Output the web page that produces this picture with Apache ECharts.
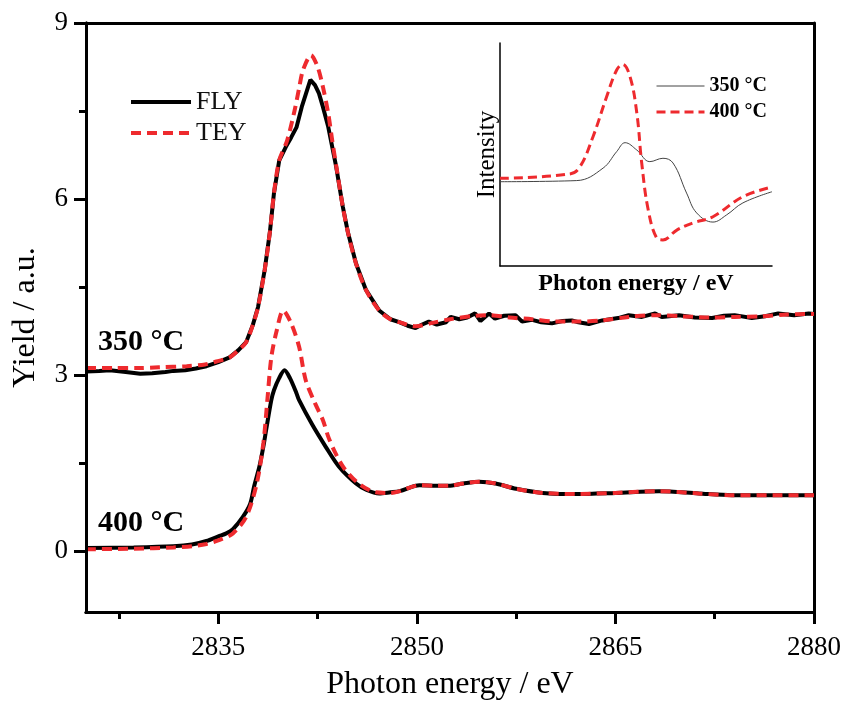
<!DOCTYPE html>
<html>
<head>
<meta charset="utf-8">
<script src="https://cdn.jsdelivr.net/npm/echarts@6/dist/echarts.min.js"></script>
<style>
html,body{margin:0;padding:0;background:#fff;}
#chart{width:848px;height:701px;}
</style>
</head>
<body>
<div id="chart"></div>
<script>
// ---------- axis ticks ----------
const xLabelValues = [2835, 2850, 2865, 2880];
const xMinorTicks = [2827.5, 2842.5, 2857.5, 2872.5];
const yLabelValues = [0, 3, 6, 9];

// ---------- main chart data ----------
const fly350E = [2825.0,2826.0,2826.8,2828.0,2829.1,2830.0,2831.0,2831.6,2832.5,2833.3,2834.1,2835.0,2835.85,2836.5,2837.1,2837.6,2838.0,2838.5,2838.9,2839.2,2839.6,2840.1,2840.5,2840.9,2841.3,2841.95,2842.3,2842.6,2842.9,2843.3,2843.9,2844.4,2844.8,2845.4,2846.15,2847.15,2848.0,2848.66,2849.3,2849.9,2850.4,2850.9,2851.5,2852.2,2852.55,2853.2,2853.8,2854.4,2854.8,2855.45,2855.9,2856.6,2857.45,2857.95,2858.7,2859.4,2860.2,2861.0,2861.7,2862.2,2863.0,2864.0,2865.2,2866.0,2867.0,2868.0,2868.5,2869.8,2871.0,2872.3,2873.2,2874.0,2875.3,2876.3,2877.3,2878.5,2879.6,2880.0];
const fly350Y = [3.06,3.07,3.08,3.05,3.02,3.03,3.05,3.07,3.08,3.11,3.15,3.22,3.30,3.42,3.56,3.85,4.16,4.79,5.45,6.10,6.66,6.89,7.05,7.22,7.57,8.03,7.94,7.80,7.57,7.23,6.55,5.87,5.42,4.90,4.45,4.10,3.95,3.90,3.84,3.80,3.86,3.91,3.86,3.90,3.99,3.95,3.98,4.05,3.92,4.05,3.96,4.01,4.02,3.91,3.94,3.90,3.88,3.92,3.93,3.90,3.87,3.93,3.97,4.02,3.99,4.05,3.99,4.02,3.98,3.97,4.01,4.02,3.97,4.00,4.05,4.02,4.05,4.04];

const tey350E = [2825,2827,2829,2830.5,2832.6,2834.0,2834.85,2835.85,2836.5,2837.1,2837.6,2838.0,2838.5,2838.9,2839.2,2839.6,2840.2,2840.75,2841.1,2841.4,2842.0,2842.5,2842.9,2843.3,2843.6,2843.95,2844.4,2844.8,2845.4,2846.15,2847.15,2848,2848.66,2849.9,2851,2852.5,2854.4,2855.5,2857,2858.7,2860.5,2862.2,2864,2866,2868,2870,2872.3,2874,2876,2878,2880];
const tey350Y = [3.12,3.12,3.12,3.13,3.15,3.18,3.23,3.30,3.42,3.56,3.85,4.16,4.79,5.45,6.10,6.66,7.00,7.50,7.89,8.20,8.45,8.25,7.91,7.46,7.00,6.50,5.87,5.42,4.90,4.45,4.10,3.95,3.90,3.83,3.88,3.95,4.01,4.02,3.98,3.95,3.91,3.91,3.93,3.99,4.02,4.00,3.98,3.99,4.00,4.03,4.04];

const fly400E = [2825,2828.6,2831.6,2833,2834.1,2835.0,2835.6,2836.1,2836.85,2837.4,2837.7,2838.1,2838.4,2838.6,2839.0,2839.2,2839.6,2840.0,2840.4,2840.9,2841.1,2842.1,2843.1,2844.1,2845.4,2846.2,2847.15,2848.0,2848.7,2850.2,2851.5,2852.4,2853.5,2854.7,2855.95,2857.5,2859.5,2862.0,2865.0,2868.3,2871.3,2873.8,2877,2880];
const fly400Y = [0.05,0.06,0.08,0.11,0.17,0.25,0.30,0.37,0.58,0.80,1.10,1.44,1.78,2.05,2.57,2.74,2.95,3.08,2.95,2.69,2.57,2.15,1.78,1.44,1.15,1.04,0.98,1.00,1.02,1.12,1.11,1.11,1.15,1.18,1.15,1.06,0.99,0.97,0.99,1.02,0.98,0.95,0.95,0.95];

const tey400E = [2825,2828.6,2831.6,2833,2834.1,2835.1,2836.1,2837.1,2837.9,2838.4,2838.7,2839.0,2839.4,2839.9,2840.5,2841.1,2841.6,2842.3,2842.9,2843.3,2843.8,2844.5,2845.6,2846.9,2848.0,2848.7,2850.2,2851.5,2852.4,2853.5,2854.7,2855.95,2857.5,2859.5,2862.0,2865.0,2868.3,2871.3,2873.8,2877,2880];
const tey400Y = [0.03,0.04,0.06,0.08,0.12,0.19,0.30,0.58,1.15,1.84,2.57,3.30,3.75,4.10,3.88,3.48,2.91,2.52,2.23,1.95,1.69,1.41,1.15,1.00,0.99,1.02,1.12,1.11,1.11,1.15,1.18,1.15,1.06,0.99,0.97,0.99,1.02,0.98,0.95,0.95,0.95];

// ---------- inset data (arbitrary units) ----------
const inset350X = [0,28.2,37.9,42.9,46.0,50.3,55.1,59.9,63.6,68.6,72.3,78.3,83.3,89.3,100];
const inset350Y = [37.8,38.3,43.9,51.3,55.3,52.0,46.8,48.3,46.2,32.7,23.8,19.7,22.9,28.3,33.3];
const inset400X = [0,25.7,29.4,34.2,39.2,42.9,45.1,47.8,50.3,52.1,54.5,57.6,59.9,65.0,71.0,78.3,89.3,100];
const inset400Y = [39.3,41.3,44.5,58.0,75.9,87.9,90.4,84.9,68.6,46.2,25.1,12.6,11.7,16.1,19.3,22.1,31.1,35.4];

const zip = (a, b) => a.map((v, i) => [v, b[i]]);

const FONT = 'Liberation Serif';
const RED = '#ee2a2e';
const txt = {fontFamily: FONT, color: '#000'};
const hidden = {show: false};
const blackLine = {color: '#000', width: 3};

// main plot frame (px) and its value ranges
const PLOT = {left: 86, right: 34, top: 23, bottom: 89};
const X_RANGE = [2825, 2880];
const Y_RANGE = [-1.04, 9];
const plotW = 848 - PLOT.left - PLOT.right;
const plotH = 701 - PLOT.top - PLOT.bottom;
const xPx = v => PLOT.left + (v - X_RANGE[0]) / (X_RANGE[1] - X_RANGE[0]) * plotW;
const yPx = v => PLOT.top + (Y_RANGE[1] - v) / (Y_RANGE[1] - Y_RANGE[0]) * plotH;

const chart = echarts.init(document.getElementById('chart'), null, {renderer: 'canvas'});

chart.setOption({
  animation: false,
  backgroundColor: '#fff',
  grid: [
    {left: PLOT.left, right: PLOT.right, top: PLOT.top, bottom: PLOT.bottom, outerBoundsMode: 'none', containLabel: false},
    {left: 500, top: 43, width: 272, height: 223, outerBoundsMode: 'none', containLabel: false},
    // helper grid spanning y = 0..9 (minor ticks)
    {left: PLOT.left, right: PLOT.right, top: PLOT.top, bottom: 701 - yPx(0), outerBoundsMode: 'none', containLabel: false},
    // helper strip left of the y axis: major y ticks drawn as split lines
    {left: PLOT.left - 12, width: 12, top: PLOT.top, bottom: 701 - yPx(0), outerBoundsMode: 'none', containLabel: false},
    // helper strip under the x axis: major x ticks drawn as split lines
    {left: xPx(2835), right: PLOT.right, top: 701 - PLOT.bottom, height: 12, outerBoundsMode: 'none', containLabel: false}
  ],
  legend: [
    {
      data: ['FLY', 'TEY'],
      orient: 'vertical', left: 124, top: 84,
      itemWidth: 60, itemHeight: 16, itemGap: 5,
      itemStyle: {opacity: 0},
      lineStyle: {width: 4},
      textStyle: {fontFamily: FONT, fontSize: 26, color: '#111'}
    },
    {
      data: [{name: '350 °C', lineStyle: {width: 1}}, {name: '400 °C', lineStyle: {width: 3}}],
      orient: 'vertical', left: 650, top: 71,
      itemWidth: 48, itemHeight: 14, itemGap: 6,
      itemStyle: {opacity: 0},
      textStyle: {fontFamily: FONT, fontSize: 20, fontWeight: 'bold', color: '#000'}
    }
  ],
  xAxis: [
    {
      type: 'value', gridIndex: 0, min: X_RANGE[0], max: X_RANGE[1], position: 'bottom',
      axisLine: {onZero: false, lineStyle: blackLine},
      axisTick: hidden,
      axisLabel: {customValues: xLabelValues, fontSize: 27, margin: 22, formatter: v => String(v), ...txt},
      splitLine: hidden,
      name: 'Photon energy / eV', nameLocation: 'middle', nameGap: 57,
      nameTextStyle: {fontSize: 32, ...txt}
    },
    {
      type: 'value', gridIndex: 0, min: X_RANGE[0], max: X_RANGE[1], position: 'bottom', z: 20,
      axisLine: {show: true, onZero: false, lineStyle: blackLine},
      axisTick: {show: true, inside: false, length: 7, customValues: xMinorTicks, lineStyle: blackLine},
      axisLabel: hidden, splitLine: hidden
    },
    {
      type: 'value', gridIndex: 0, min: X_RANGE[0], max: X_RANGE[1], position: 'top',
      axisLine: {onZero: false, lineStyle: blackLine},
      axisTick: hidden, axisLabel: hidden, splitLine: hidden
    },
    {
      type: 'value', gridIndex: 1, min: 0, max: 100, position: 'bottom',
      axisLine: {onZero: false, lineStyle: {color: '#000', width: 1.5}},
      axisTick: hidden, axisLabel: hidden, splitLine: hidden,
      name: 'Photon energy / eV', nameLocation: 'middle', nameGap: 6,
      nameTextStyle: {fontSize: 24, fontWeight: 'bold', ...txt}
    },
    {type: 'value', gridIndex: 2, min: X_RANGE[0], max: X_RANGE[1], show: false},
    {type: 'value', gridIndex: 3, min: 0, max: 1, show: false},
    {
      type: 'value', gridIndex: 4, min: 2835, max: 2880, interval: 15,
      axisLine: {show: false, onZero: false}, axisTick: hidden, axisLabel: hidden,
      splitLine: {show: true, showMinLine: true, showMaxLine: true, lineStyle: blackLine}
    }
  ],
  yAxis: [
    {
      type: 'value', gridIndex: 0, min: Y_RANGE[0], max: Y_RANGE[1], position: 'left',
      axisLine: {onZero: false, lineStyle: blackLine},
      axisTick: hidden,
      axisLabel: {customValues: yLabelValues, fontSize: 27, margin: 18, ...txt},
      splitLine: hidden,
      name: 'Yield / a.u.', nameLocation: 'middle', nameGap: 44, nameRotate: 90,
      nameTextStyle: {fontSize: 32, ...txt}
    },
    {
      type: 'value', gridIndex: 0, min: Y_RANGE[0], max: Y_RANGE[1], position: 'right',
      axisLine: {onZero: false, lineStyle: blackLine},
      axisTick: hidden, axisLabel: hidden, splitLine: hidden
    },
    {
      type: 'value', gridIndex: 1, min: 0, max: 100, position: 'left',
      axisLine: {onZero: false, lineStyle: {color: '#000', width: 1.5}},
      axisTick: hidden, axisLabel: hidden, splitLine: hidden,
      name: 'Intensity', nameLocation: 'middle', nameGap: 0, nameRotate: 90,
      nameTextStyle: {fontSize: 25, ...txt}
    },
    {
      type: 'value', gridIndex: 2, min: 0, max: 9, interval: 3, position: 'left', z: 20,
      axisLine: {show: true, onZero: false, lineStyle: blackLine},
      axisTick: {show: true, inside: false, length: 12, lineStyle: blackLine},
      minorTick: {show: true, splitNumber: 2, length: 7, lineStyle: blackLine},
      axisLabel: hidden, splitLine: hidden, minorSplitLine: hidden
    },
    {
      type: 'value', gridIndex: 3, min: 0, max: 9, interval: 3,
      axisLine: {show: false, onZero: false}, axisTick: hidden, axisLabel: hidden,
      splitLine: {show: true, showMinLine: true, showMaxLine: true, lineStyle: blackLine}
    },
    {type: 'value', gridIndex: 4, min: 0, max: 1, show: false}
  ],
  graphic: [
    {type: 'text', left: 98, top: 327, style: {text: '350 °C', font: 'bold 30px "Liberation Serif"', fill: '#000'}},
    {type: 'text', left: 98, top: 508, style: {text: '400 °C', font: 'bold 30px "Liberation Serif"', fill: '#000'}}
  ],
  series: [
    {name: 'FLY', type: 'line', xAxisIndex: 0, yAxisIndex: 0, data: zip(fly350E, fly350Y), symbol: 'none',
     lineStyle: {color: '#000', width: 4}, itemStyle: {color: '#000'}, z: 2},
    {name: 'FLY', type: 'line', xAxisIndex: 0, yAxisIndex: 0, data: zip(fly400E, fly400Y), symbol: 'none', smooth: 0.3,
     lineStyle: {color: '#000', width: 4}, itemStyle: {color: '#000'}, z: 2},
    {name: 'TEY', type: 'line', xAxisIndex: 0, yAxisIndex: 0, data: zip(tey350E, tey350Y), symbol: 'none', smooth: 0.3,
     lineStyle: {color: RED, width: 4, type: [10, 6]}, itemStyle: {color: RED}, z: 3},
    {name: 'TEY', type: 'line', xAxisIndex: 0, yAxisIndex: 0, data: zip(tey400E, tey400Y), symbol: 'none', smooth: 0.3,
     lineStyle: {color: RED, width: 4, type: [10, 6]}, itemStyle: {color: RED}, z: 3},
    {name: '350 °C', type: 'line', xAxisIndex: 3, yAxisIndex: 2, data: zip(inset350X, inset350Y), symbol: 'none', smooth: 0.4,
     lineStyle: {color: '#444', width: 1}, itemStyle: {color: '#444'}},
    {name: '400 °C', type: 'line', xAxisIndex: 3, yAxisIndex: 2, data: zip(inset400X, inset400Y), symbol: 'none', smooth: 0.4,
     lineStyle: {color: RED, width: 3, type: [9, 5]}, itemStyle: {color: RED}}
  ]
});
</script>
</body>
</html>
